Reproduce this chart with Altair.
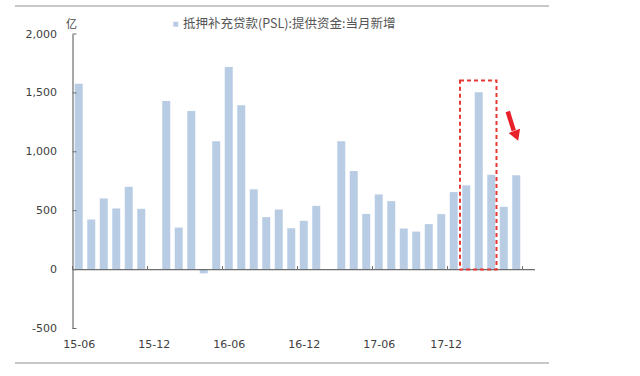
import altair as alt
import pandas as pd

months = ["15-06", "15-07", "15-08", "15-09", "15-10", "15-11", "15-12",
          "16-01", "16-02", "16-03", "16-04", "16-05", "16-06", "16-07",
          "16-08", "16-09", "16-10", "16-11", "16-12", "17-01", "17-02",
          "17-03", "17-04", "17-05", "17-06", "17-07", "17-08", "17-09",
          "17-10", "17-11", "17-12", "18-01", "18-02", "18-03", "18-04",
          "18-05", "18-06"]
values = [1577, 425, 604, 519, 703, 516, None,
          1432, 357, 1347, -32, 1089, 1719, 1395,
          682, 445, 510, 351, 414, 541, None,
          1089, 837, 473, 638, 581, 349, 323,
          386, 471, 658, 715, 1506, 805, 533,
          800, None]
series_name = "抵押补充贷款(PSL):提供资金:当月新增"
y_ticks = [-500, 0, 500, 1000, 1500, 2000]
x_label_months = ["15-06", "15-12", "16-06", "16-12", "17-06", "17-12"]
x_label_pos = [0.5, 6.5, 12.5, 18.5, 24.5, 29.85]
x_tick_idx = [0, 6, 12, 18, 24, 30, 36]
# highlighted months (18-01 .. 18-03) and box height
box = {"x0": [31], "x1": [33.92], "y0": [0], "y1": [1605]}
arrow = {"xa": [34.82], "ya": [1342], "xb": [35.3], "yb": [1180]}
arrow_head = {"xh": [35.45], "yh": [1150]}

N = len(months)
df = pd.DataFrame({"idx": list(range(N)), "month": months, "value": values})
df = df.dropna(subset=["value"]).copy()
df["xs"] = df["idx"] + 0.18
df["xe"] = df["idx"] + 0.82
df["series"] = series_name

# label expression built from arrays
expr = "''"
for p, m in reversed(list(zip(x_label_pos, x_label_months))):
    expr = f"abs(datum.value - {p}) < 0.01 ? '{m}' : ({expr})"

xscale = alt.Scale(domain=[0, N], nice=False, zero=False)
yscale = alt.Scale(domain=[-500, 2000], nice=False)

LABEL_FONT = "DejaVu Sans"
CJK = "Noto Sans CJK SC"
AX = "#6e6e6e"

XAXIS = alt.Axis(values=x_label_pos, labelExpr=expr, title=None,
                 domain=False, ticks=False, tickSize=0, grid=False,
                 labelPadding=10, labelFont=LABEL_FONT, labelFontSize=11,
                 labelColor="#404040", labelFlush=False, labelOverlap=False)
YAXIS = alt.Axis(values=y_ticks, format=",.0f",
                 labelExpr="replace(datum.label, '\u2212', '-')",
                 title="亿", titleAngle=0,
                 titleX=-1.5, titleY=-10, titleAlign="center",
                 titleBaseline="middle", titleFont=CJK, titleFontSize=11,
                 titleFontWeight="normal", titleColor="#444",
                 domain=True, domainColor=AX, domainWidth=1.2,
                 ticks=False, tickSize=0, grid=False, labelPadding=16,
                 labelFont=LABEL_FONT, labelFontSize=11, labelColor="#404040")


def X(f):
    return alt.X(f, scale=xscale, axis=XAXIS, title=None)


def Y(f):
    return alt.Y(f, scale=yscale, axis=YAXIS, title="亿")


bars = alt.Chart(df).mark_rect().encode(
    x=X("xs:Q"), x2="xe:Q",
    y=Y("value:Q"), y2=alt.datum(0),
    color=alt.Color("series:N", scale=alt.Scale(range=["#b8cce4"]),
                    legend=alt.Legend(orient="none", legendX=97, legendY=-16,
                                      title=None, symbolType="square", symbolSize=25,
                                      symbolStrokeWidth=0, labelFont=CJK,
                                      labelFontSize=12.5, labelColor="#555",
                                      labelLimit=500, labelOffset=1, padding=0)),
)

zero_line = alt.Chart(pd.DataFrame({"a": [0], "b": [N], "z": [0]})).mark_rule(
    color=AX, strokeWidth=1.2).encode(x=X("a:Q"), x2="b:Q", y=Y("z:Q"))

ytick_df = pd.DataFrame({"yv": y_ticks, "a": 0, "b": 0.32})
ytick_layer = alt.Chart(ytick_df).mark_rule(color=AX, strokeWidth=1).encode(
    x=X("a:Q"), x2="b:Q", y=Y("yv:Q"))

xtick_df = pd.DataFrame({"xt": x_tick_idx, "a": 0, "b": 30})
xtick_layer = alt.Chart(xtick_df).mark_rule(color=AX, strokeWidth=1).encode(
    x=X("xt:Q"), y=Y("a:Q"), y2="b:Q")

box_layer = alt.Chart(pd.DataFrame(box)).mark_rect(
    fillOpacity=0, stroke="#e53935", strokeWidth=2, strokeDash=[4, 3]).encode(
    x=X("x0:Q"), x2="x1:Q", y=Y("y0:Q"), y2="y1:Q")

arrow_layer = alt.Chart(pd.DataFrame(arrow)).mark_rule(
    color="#e8202a", strokeWidth=4.5).encode(
    x=X("xa:Q"), x2="xb:Q", y=Y("ya:Q"), y2="yb:Q")

head_layer = alt.Chart(pd.DataFrame(arrow_head)).mark_point(
    shape="triangle", filled=True, color="#e8202a", opacity=1, size=150,
    angle=159).encode(x=X("xh:Q"), y=Y("yh:Q"))

sep_top = alt.Chart(pd.DataFrame({"k": [0]})).mark_rule(
    color="#b4b4b4", strokeWidth=1.5).encode(
    x=alt.value(-57.5), x2=alt.value(476.5), y=alt.value(-28))
sep_bot = alt.Chart(pd.DataFrame({"k": [0]})).mark_rule(
    color="#b4b4b4", strokeWidth=1.5).encode(
    x=alt.value(-57.5), x2=alt.value(476.5), y=alt.value(329))

chart = alt.layer(
    bars, zero_line, ytick_layer, xtick_layer,
    box_layer, arrow_layer, head_layer, sep_top, sep_bot
).properties(
    width=462.5, height=294.5,
    autosize=alt.AutoSizeParams(type="none"),
    padding={"left": 72.5, "top": 34, "right": 105, "bottom": 47.5},
    background="white",
).configure_view(stroke=None)

chart.save("out.html", embed_options={"renderer": "svg", "actions": False})
